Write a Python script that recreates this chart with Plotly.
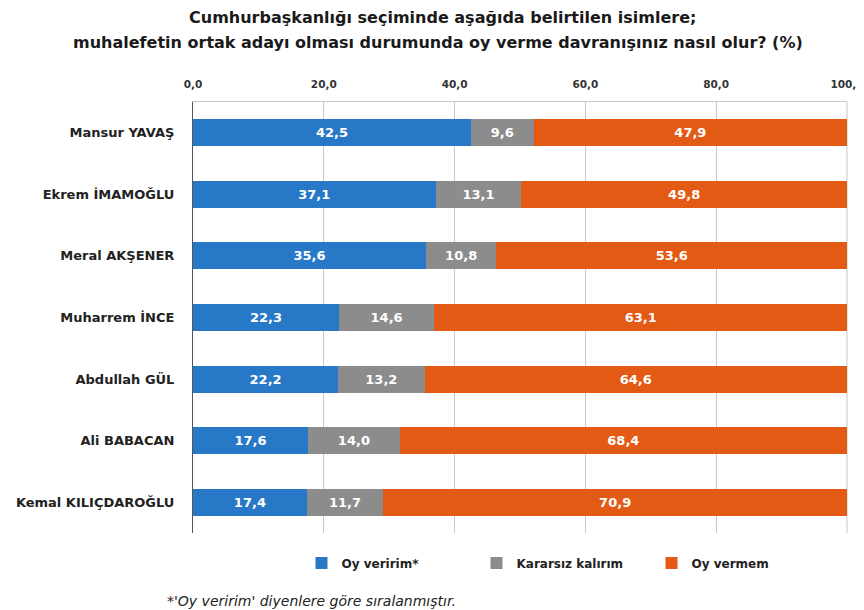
import plotly.graph_objects as go

candidates = ["Mansur YAVAŞ", "Ekrem İMAMOĞLU", "Meral AKŞENER", "Muharrem İNCE",
              "Abdullah GÜL", "Ali BABACAN", "Kemal KILIÇDAROĞLU"]
oy_veririm = [42.5, 37.1, 35.6, 22.3, 22.2, 17.6, 17.4]
kararsiz = [9.6, 13.1, 10.8, 14.6, 13.2, 14.0, 11.7]
oy_vermem = [47.9, 49.8, 53.6, 63.1, 64.6, 68.4, 70.9]
series_names = ["Oy veririm*", "Kararsız kalırım", "Oy vermem"]
colors = ["#2878c8", "#8c8c8c", "#e35a14"]
tick_vals = [0, 20, 40, 60, 80, 100]

FONT = "'DejaVu Sans', sans-serif"

# page body has an 8px margin; figure origin sits at page (8, 8)
W, H = 856, 602
L, R, T, B = 185, 17, 94, 77
PW, PH = W - L - R, H - T - B

fig = go.Figure()
for name, vals, col in zip(series_names, [oy_veririm, kararsiz, oy_vermem], colors):
    fig.add_trace(go.Bar(
        y=candidates, x=vals, name=name, orientation="h",
        marker=dict(color=col, line=dict(width=0)),
        text=[f"{v:.1f}".replace(".", ",") for v in vals],
        textposition="inside", insidetextanchor="middle",
        textfont=dict(color="white", size=13, family=FONT, weight="bold"),
        width=0.44, cliponaxis=False,
    ))

fig.update_layout(
    width=W, height=H,
    barmode="stack",
    separators=", ",
    paper_bgcolor="white", plot_bgcolor="white",
    margin=dict(l=L, r=R, t=T, b=B, autoexpand=False),
    font=dict(family=FONT, color="#222222"),
    xaxis=dict(
        side="top", range=[0, 100], tickvals=tick_vals, tickformat=".1f",
        showgrid=True, gridcolor="#c8c8c8", gridwidth=1,
        showline=True, linecolor="#c8c8c8", linewidth=1,
        ticks="", zeroline=False, automargin=False,
        ticklabeloverflow="allow",
        tickfont=dict(size=10.5, family=FONT, weight="bold", color="#333333"),
        ticklabelstandoff=9,
    ),
    yaxis=dict(
        autorange="reversed", automargin=False,
        showline=True, linecolor="#555555", linewidth=1,
        ticks="", showgrid=False,
        tickfont=dict(size=13, family=FONT, weight="bold", color="#222222"),
        ticklabelstandoff=15,
    ),
    legend=dict(
        orientation="h", x=(556 - L) / PW, xanchor="center",
        y=-(555 - (H - B)) / PH, yanchor="middle",
        font=dict(size=12, family=FONT, weight="bold", color="#222222"),
        itemwidth=30, traceorder="normal",
        entrywidth=130, entrywidthmode="pixels",
    ),
    showlegend=True,
)
# right-hand frame line of the plot area (gridline at the range edge)
fig.add_shape(
    type="line", xref="x domain", yref="y domain", x0=1, x1=1, y0=0, y1=1,
    line=dict(color="#c8c8c8", width=1), layer="below",
)
fig.add_annotation(
    text="<b>Cumhurbaşkanlığı seçiminde aşağıda belirtilen isimlere;</b>",
    xref="paper", yref="paper", x=(434 - L) / PW, xanchor="center",
    y=1.0, yshift=T - 9, yanchor="middle",
    showarrow=False, font=dict(size=16, family=FONT, color="#1a1a1a"),
)
fig.add_annotation(
    text="<b>muhalefetin ortak adayı olması durumunda oy verme davranışınız nasıl olur? (%)</b>",
    xref="paper", yref="paper", x=(430 - L) / PW, xanchor="center",
    y=1.0, yshift=T - 34, yanchor="middle",
    showarrow=False, font=dict(size=16, family=FONT, color="#1a1a1a"),
)
fig.add_annotation(
    text="<i>*'Oy veririm' diyenlere göre sıralanmıştır.</i>",
    xref="paper", yref="paper", x=(157 - L) / PW, xanchor="left",
    y=-(593 - (H - B)) / PH, yanchor="middle",
    showarrow=False, font=dict(size=14, family=FONT, color="#222222"),
)

fig.write_html("out.html")
